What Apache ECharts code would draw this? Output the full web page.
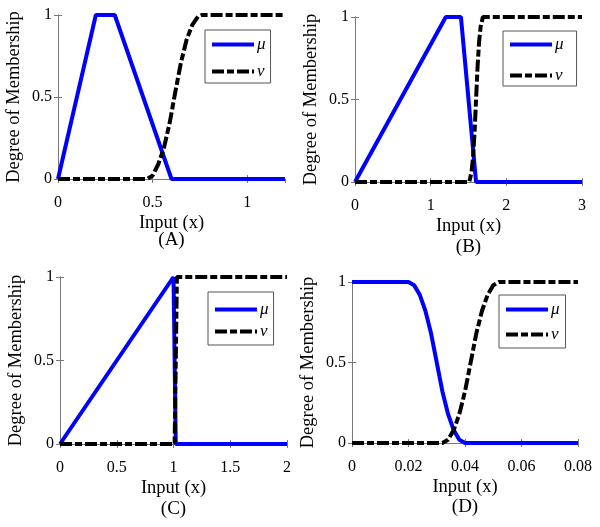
<!DOCTYPE html>
<html>
<head>
<meta charset="utf-8">
<script src="https://cdn.jsdelivr.net/npm/echarts@6/dist/echarts.min.js"></script>
<style>
html,body{margin:0;padding:0;background:#fff;}
#chart{width:600px;height:527px;}
</style>
</head>
<body>
<div id="chart"></div>
<script>
// ---- Data ----
const xA_mu = [0, 0.2, 0.3, 0.6, 1.2];
const yA_mu = [0, 1, 1, 0, 0];
const xA_nu = [0, 0.47, 0.5, 0.53, 0.56, 0.59, 0.62, 0.65, 0.68, 0.71, 0.74, 0.76, 1.2];
const yA_nu = [0, 0, 0.02, 0.09, 0.19, 0.34, 0.53, 0.71, 0.85, 0.94, 0.99, 1, 1];

const xB_mu = [0, 1.2, 1.4, 1.6, 3];
const yB_mu = [0, 1, 1, 0, 0];
const xB_nu = [0, 1.51, 1.54, 1.56, 1.58, 1.6, 1.62, 1.64, 1.66, 1.69, 3];
const yB_nu = [0, 0, 0.06, 0.15, 0.3, 0.5, 0.7, 0.85, 0.94, 1, 1];

const xC_mu = [0, 1.0, 1.02, 2];
const yC_mu = [0, 1, 0, 0];
const xC_nu = [0, 1.01, 1.03, 2];
const yC_nu = [0, 0, 1, 1];

const xD_mu = [0, 0.02, 0.022, 0.024, 0.026, 0.028, 0.03, 0.032, 0.034, 0.036, 0.038, 0.04, 0.08];
const yD_mu = [1, 1, 0.98, 0.92, 0.82, 0.68, 0.5, 0.32, 0.18, 0.08, 0.02, 0, 0];
const xD_nu = [0, 0.032, 0.034, 0.036, 0.038, 0.04, 0.042, 0.044, 0.046, 0.048, 0.05, 0.052, 0.08];
const yD_nu = [0, 0, 0.02, 0.08, 0.18, 0.32, 0.5, 0.68, 0.82, 0.92, 0.98, 1, 1];

const xRanges = [[0, 1.2, 0.5], [0, 3, 1], [0, 2, 0.5], [0, 0.08, 0.02]];
const yRange = [0, 1, 0.5];
const panelLabels = ['(A)', '(B)', '(C)', '(D)'];
const xName = 'Input (x)';
const yName = 'Degree of Membership';
const seriesNames = ['\u03bc', '\u03bd'];

// ---- Layout ----
const grids = [
  {left: 58, top: 15, width: 227, height: 164},
  {left: 355, top: 17, width: 227, height: 165},
  {left: 60, top: 277, width: 227, height: 167},
  {left: 352, top: 282, width: 226, height: 161}
];
const legendPos = [
  {left: 205, top: 30, padding: [6, 5, 3, 5], gap: 10},
  {left: 503, top: 31, padding: [5, 13, 2, 5], gap: 14},
  {left: 208, top: 292, padding: [9, 5, 5, 5], gap: 5},
  {left: 499, top: 295, padding: [6, 6, 5, 5], gap: 8}
];
const labelY = [240, 247, 509, 507];
const FONT = '"Liberation Serif", "Times New Roman", serif';
const AX = '#7a7a7a';

const zip = (xs, ys) => xs.map((x, i) => [x, ys[i]]);
const data = [
  [zip(xA_mu, yA_mu), zip(xA_nu, yA_nu)],
  [zip(xB_mu, yB_mu), zip(xB_nu, yB_nu)],
  [zip(xC_mu, yC_mu), zip(xC_nu, yC_nu)],
  [zip(xD_mu, yD_mu), zip(xD_nu, yD_nu)]
];

const xAxes = [], yAxes = [], series = [], legends = [], graphics = [];
grids.forEach((g, i) => {
  const [xmin, xmax, xint] = xRanges[i];
  const isMultiple = Math.abs(xmax / xint - Math.round(xmax / xint)) < 1e-6;
  const base = {
    type: 'value', gridIndex: i, min: xmin, max: xmax, interval: xint,
    splitLine: {show: false},
    axisLine: {show: true, lineStyle: {color: AX, width: 1}},
    axisTick: {show: true, inside: true, length: 4, lineStyle: {color: AX}}
  };
  xAxes.push(Object.assign({}, base, {
    position: 'bottom',
    name: xName, nameLocation: 'middle', nameGap: 35,
    nameTextStyle: {fontFamily: FONT, fontSize: 18.5, color: '#000'},
    axisLabel: {fontFamily: FONT, fontSize: 16, color: '#000', margin: 16, showMaxLabel: isMultiple}
  }));
  xAxes.push(Object.assign({}, base, {position: 'top', axisLabel: {show: false}}));
  const ybase = {
    type: 'value', gridIndex: i, min: yRange[0], max: yRange[1], interval: yRange[2],
    splitLine: {show: false},
    axisLine: {show: true, lineStyle: {color: AX, width: 1}},
    axisTick: {show: true, inside: true, length: 4, lineStyle: {color: AX}}
  };
  yAxes.push(Object.assign({}, ybase, {
    position: 'left',
    name: yName, nameLocation: 'middle', nameGap: 34, nameRotate: 90,
    nameTextStyle: {fontFamily: FONT, fontSize: 18.5, color: '#000'},
    axisLabel: {fontFamily: FONT, fontSize: 16, color: '#000', margin: 6}
  }));
  yAxes.push(Object.assign({}, ybase, {position: 'right', axisLabel: {show: false}}));

  series.push({
    name: seriesNames[0], type: 'line', xAxisIndex: 2 * i, yAxisIndex: 2 * i,
    data: data[i][0], showSymbol: false, symbol: 'circle', symbolSize: 0, clip: false, smooth: false,
    lineStyle: {color: '#0000ff', width: 4}, itemStyle: {color: '#0000ff'}, z: 3
  });
  series.push({
    name: seriesNames[1], type: 'line', xAxisIndex: 2 * i, yAxisIndex: 2 * i,
    data: data[i][1], showSymbol: false, symbol: 'circle', symbolSize: 0, clip: false, smooth: false,
    lineStyle: {color: '#000', width: 4, type: [12, 3, 7, 3]}, itemStyle: {color: '#000'}, z: 4
  });
  const lp = legendPos[i];
  legends.push({
    left: lp.left, top: lp.top, orient: 'vertical',
    data: seriesNames, itemWidth: 42, itemHeight: 14, itemGap: lp.gap,
    padding: lp.padding, borderColor: '#555', borderWidth: 1,
    backgroundColor: '#fff', selectedMode: false,
    itemStyle: {opacity: 0},
    lineStyle: {width: 4},
    textStyle: {fontFamily: FONT, fontSize: 17, lineHeight: 14, fontStyle: 'italic', color: '#000', padding: [0, 0, 0, -2]}
  });
  graphics.push({
    type: 'text', x: g.left + g.width / 2, y: labelY[i],
    style: {text: panelLabels[i], font: '19px ' + FONT, fill: '#000', align: 'center', verticalAlign: 'middle'}
  });
});

const chart = echarts.init(document.getElementById('chart'), null, {renderer: 'canvas'});
chart.setOption({
  animation: false,
  backgroundColor: '#fff',
  grid: grids.map(g => Object.assign({containLabel: false}, g)),
  xAxis: xAxes,
  yAxis: yAxes,
  legend: legends,
  series: series,
  graphic: graphics
});
</script>
</body>
</html>
